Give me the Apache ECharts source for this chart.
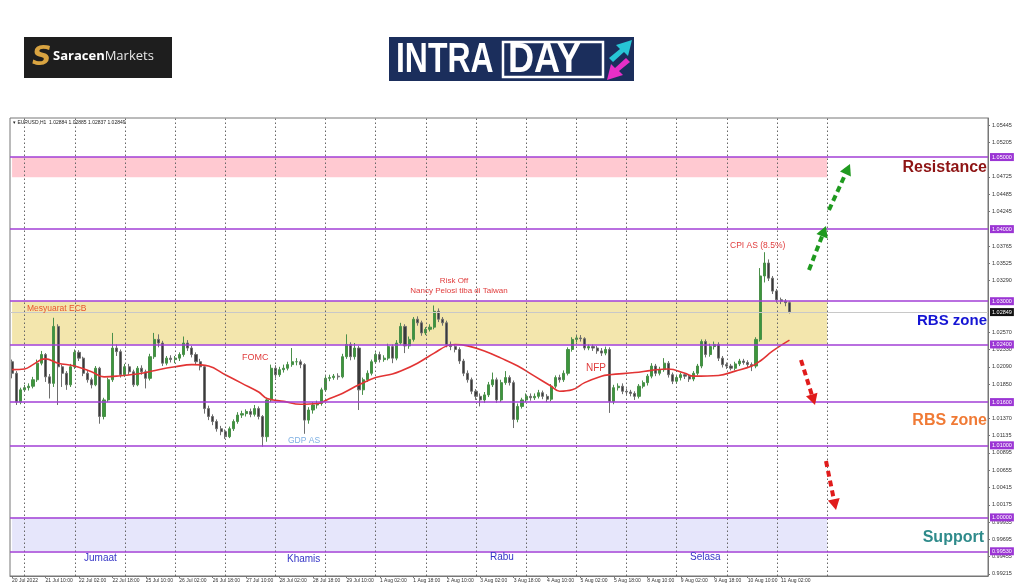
<!DOCTYPE html>
<html><head><meta charset="utf-8">
<script src="https://cdn.jsdelivr.net/npm/echarts@6/dist/echarts.min.js"></script>
<style>html,body{margin:0;padding:0;background:#fff}#c{width:1024px;height:587px}</style>
</head><body><div id="c"></div>
<script>
// H2-resampled EURUSD candles [open, close, low, high]
const candles = [
[1.0216,1.0200,1.0193,1.0219],[1.0200,1.0160,1.0156,1.0203],[1.0160,1.0177,1.0157,1.0180],[1.0177,1.0180,1.0174,1.0184],
[1.0180,1.0182,1.0176,1.0186],[1.0182,1.0191,1.0179,1.0195],[1.0191,1.0214,1.0188,1.0219],[1.0214,1.0226,1.0211,1.0231],
[1.0226,1.0195,1.0188,1.0228],[1.0195,1.0186,1.0165,1.0199],[1.0186,1.0265,1.0181,1.0277],[1.0265,1.0209,1.0156,1.0268],
[1.0209,1.0200,1.0181,1.0212],[1.0200,1.0184,1.0177,1.0203],[1.0184,1.0209,1.0181,1.0213],[1.0209,1.0229,1.0206,1.0233],
[1.0229,1.0221,1.0217,1.0232],[1.0221,1.0200,1.0196,1.0223],[1.0200,1.0191,1.0187,1.0203],[1.0191,1.0184,1.0179,1.0194],
[1.0184,1.0207,1.0182,1.0210],[1.0207,1.0140,1.0130,1.0209],[1.0140,1.0163,1.0136,1.0166],[1.0163,1.0191,1.0160,1.0194],
[1.0191,1.0235,1.0188,1.0256],[1.0235,1.0230,1.0224,1.0240],[1.0230,1.0198,1.0194,1.0233],[1.0198,1.0209,1.0195,1.0213],
[1.0209,1.0202,1.0198,1.0213],[1.0202,1.0184,1.0181,1.0205],[1.0184,1.0207,1.0182,1.0210],[1.0207,1.0202,1.0198,1.0211],
[1.0202,1.0193,1.0179,1.0205],[1.0193,1.0223,1.0190,1.0227],[1.0223,1.0247,1.0220,1.0256],[1.0247,1.0242,1.0236,1.0254],
[1.0242,1.0214,1.0210,1.0245],[1.0214,1.0221,1.0211,1.0224],[1.0221,1.0219,1.0215,1.0225],[1.0219,1.0221,1.0214,1.0224],
[1.0221,1.0226,1.0217,1.0229],[1.0226,1.0242,1.0223,1.0251],[1.0242,1.0235,1.0231,1.0246],[1.0235,1.0226,1.0222,1.0238],
[1.0226,1.0216,1.0212,1.0229],[1.0216,1.0209,1.0204,1.0220],[1.0209,1.0151,1.0144,1.0211],[1.0151,1.0140,1.0135,1.0155],
[1.0140,1.0133,1.0128,1.0143],[1.0133,1.0123,1.0119,1.0136],[1.0123,1.0119,1.0114,1.0127],[1.0119,1.0112,1.0109,1.0122],
[1.0112,1.0123,1.0110,1.0126],[1.0123,1.0133,1.0120,1.0136],[1.0133,1.0142,1.0130,1.0146],[1.0142,1.0144,1.0138,1.0148],
[1.0144,1.0147,1.0140,1.0150],[1.0147,1.0143,1.0139,1.0151],[1.0143,1.0151,1.0140,1.0156],[1.0151,1.0140,1.0136,1.0154],
[1.0140,1.0112,1.0098,1.0142],[1.0112,1.0163,1.0105,1.0166],[1.0163,1.0207,1.0160,1.0212],[1.0207,1.0198,1.0193,1.0211],
[1.0198,1.0205,1.0195,1.0209],[1.0205,1.0207,1.0201,1.0212],[1.0207,1.0212,1.0204,1.0216],[1.0212,1.0216,1.0209,1.0235],
[1.0216,1.0216,1.0211,1.0221],[1.0216,1.0212,1.0207,1.0219],[1.0212,1.0135,1.0116,1.0214],[1.0135,1.0149,1.0130,1.0153],
[1.0149,1.0156,1.0144,1.0160],[1.0156,1.0158,1.0151,1.0162],[1.0158,1.0177,1.0155,1.0180],[1.0177,1.0193,1.0174,1.0196],
[1.0193,1.0194,1.0189,1.0198],[1.0194,1.0196,1.0191,1.0199],[1.0196,1.0195,1.0191,1.0200],[1.0195,1.0223,1.0193,1.0227],
[1.0223,1.0240,1.0220,1.0254],[1.0240,1.0223,1.0218,1.0243],[1.0223,1.0235,1.0219,1.0242],[1.0235,1.0177,1.0149,1.0238],
[1.0177,1.0191,1.0170,1.0194],[1.0191,1.0200,1.0188,1.0204],[1.0200,1.0216,1.0197,1.0219],[1.0216,1.0226,1.0213,1.0229],
[1.0226,1.0219,1.0215,1.0230],[1.0219,1.0221,1.0216,1.0225],[1.0221,1.0237,1.0218,1.0241],[1.0237,1.0221,1.0214,1.0240],
[1.0221,1.0242,1.0218,1.0246],[1.0242,1.0265,1.0240,1.0270],[1.0265,1.0238,1.0228,1.0268],[1.0238,1.0247,1.0234,1.0251],
[1.0247,1.0275,1.0244,1.0278],[1.0275,1.0270,1.0266,1.0279],[1.0270,1.0256,1.0252,1.0273],[1.0256,1.0261,1.0253,1.0264],
[1.0261,1.0264,1.0258,1.0268],[1.0264,1.0286,1.0261,1.0294],[1.0286,1.0275,1.0271,1.0290],[1.0275,1.0270,1.0266,1.0278],
[1.0270,1.0240,1.0236,1.0273],[1.0240,1.0237,1.0232,1.0244],[1.0237,1.0233,1.0229,1.0240],[1.0233,1.0217,1.0213,1.0236],
[1.0217,1.0200,1.0196,1.0220],[1.0200,1.0191,1.0187,1.0204],[1.0191,1.0175,1.0171,1.0194],[1.0175,1.0168,1.0163,1.0178],
[1.0168,1.0163,1.0154,1.0172],[1.0163,1.0170,1.0159,1.0174],[1.0170,1.0184,1.0167,1.0188],[1.0184,1.0191,1.0181,1.0201],
[1.0191,1.0163,1.0159,1.0194],[1.0163,1.0187,1.0160,1.0191],[1.0187,1.0194,1.0184,1.0203],[1.0194,1.0187,1.0183,1.0197],
[1.0187,1.0136,1.0124,1.0190],[1.0136,1.0154,1.0132,1.0158],[1.0154,1.0163,1.0151,1.0166],[1.0163,1.0168,1.0160,1.0172],
[1.0168,1.0166,1.0162,1.0172],[1.0166,1.0168,1.0163,1.0172],[1.0168,1.0173,1.0165,1.0177],[1.0173,1.0168,1.0164,1.0176],
[1.0168,1.0164,1.0160,1.0171],[1.0164,1.0182,1.0161,1.0185],[1.0182,1.0194,1.0179,1.0197],[1.0194,1.0191,1.0187,1.0198],
[1.0191,1.0200,1.0188,1.0204],[1.0200,1.0233,1.0197,1.0236],[1.0233,1.0247,1.0230,1.0250],[1.0247,1.0249,1.0243,1.0253],
[1.0249,1.0248,1.0244,1.0253],[1.0248,1.0235,1.0232,1.0250],[1.0235,1.0237,1.0232,1.0240],[1.0237,1.0235,1.0231,1.0240],
[1.0235,1.0231,1.0227,1.0238],[1.0231,1.0228,1.0224,1.0235],[1.0228,1.0233,1.0225,1.0237],[1.0233,1.0161,1.0145,1.0236],
[1.0161,1.0180,1.0157,1.0184],[1.0180,1.0182,1.0176,1.0186],[1.0182,1.0175,1.0171,1.0186],[1.0175,1.0174,1.0170,1.0179],
[1.0174,1.0172,1.0168,1.0177],[1.0172,1.0168,1.0163,1.0175],[1.0168,1.0182,1.0165,1.0185],[1.0182,1.0187,1.0179,1.0190],
[1.0187,1.0196,1.0183,1.0199],[1.0196,1.0210,1.0193,1.0214],[1.0210,1.0200,1.0196,1.0213],[1.0200,1.0205,1.0197,1.0209],
[1.0205,1.0214,1.0202,1.0221],[1.0214,1.0198,1.0194,1.0217],[1.0198,1.0189,1.0185,1.0201],[1.0189,1.0194,1.0186,1.0197],
[1.0194,1.0198,1.0190,1.0201],[1.0198,1.0196,1.0192,1.0200],[1.0196,1.0192,1.0188,1.0199],[1.0192,1.0200,1.0189,1.0203],
[1.0200,1.0210,1.0197,1.0213],[1.0210,1.0244,1.0207,1.0247],[1.0244,1.0226,1.0222,1.0247],[1.0226,1.0237,1.0223,1.0241],
[1.0237,1.0240,1.0233,1.0244],[1.0240,1.0221,1.0217,1.0243],[1.0221,1.0212,1.0208,1.0224],[1.0212,1.0210,1.0206,1.0215],
[1.0210,1.0207,1.0204,1.0213],[1.0207,1.0213,1.0204,1.0216],[1.0213,1.0217,1.0210,1.0220],[1.0217,1.0215,1.0212,1.0220],
[1.0215,1.0212,1.0208,1.0218],[1.0212,1.0210,1.0203,1.0215],[1.0210,1.0247,1.0207,1.0250],[1.0247,1.0335,1.0244,1.0346],
[1.0335,1.0353,1.0326,1.0368],[1.0353,1.0332,1.0328,1.0358],[1.0332,1.0314,1.0310,1.0335],[1.0314,1.0302,1.0298,1.0317],
[1.0302,1.0300,1.0296,1.0305],[1.0300,1.0298,1.0293,1.0303],[1.0298,1.0285,1.0283,1.0300]
];
// moving average readings [slot, value]
const maPoints = [
[0,1.0205],[3,1.0206],[5,1.0212],[7,1.0219],[8,1.0220],[11,1.0214],[15,1.0210],[19,1.0202],[22,1.0195],[25,1.0196],
[31,1.0200],[35,1.0205],[39,1.0209],[43,1.0212],[47,1.0210],[51,1.0198],[55,1.0186],[59,1.0174],[61,1.0165],[65,1.0161],
[69,1.0157],[73,1.0158],[76,1.0165],[79,1.0172],[83,1.0184],[87,1.0194],[91,1.0199],[93,1.0203],[97,1.0214],[101,1.0228],
[104,1.0238],[106,1.0240],[109,1.0238],[113,1.0231],[117,1.0221],[121,1.0210],[125,1.0196],[129,1.0182],[131,1.0175],
[134,1.0177],[137,1.0187],[141,1.0196],[143,1.0198],[149,1.0201],[153,1.0204],[157,1.0206],[161,1.0200],[163,1.0196],
[169,1.0197],[173,1.0203],[177,1.0210],[179,1.0217],[182,1.0231],[186,1.0246]
];
const xTickLabels = ['20 Jul 2022','21 Jul 10:00','22 Jul 02:00','22 Jul 18:00','25 Jul 10:00','26 Jul 02:00','26 Jul 18:00',
'27 Jul 10:00','28 Jul 02:00','28 Jul 18:00','29 Jul 10:00','1 Aug 02:00','1 Aug 18:00','2 Aug 10:00','3 Aug 02:00',
'3 Aug 18:00','4 Aug 10:00','5 Aug 02:00','5 Aug 18:00','8 Aug 10:00','9 Aug 02:00','9 Aug 18:00','10 Aug 10:00','11 Aug 02:00'];
const yTickValues = [1.05445,1.05205,1.04725,1.04485,1.04245,1.03765,1.03525,1.03290,1.02570,1.02330,1.02090,1.01850,
1.01370,1.01135,1.00895,1.00655,1.00415,1.00175,0.99935,0.99695,0.99455,0.99215];
const levelValues = [1.05000,1.04000,1.03000,1.02400,1.01600,1.01000,1.00000,0.99530];
const zoneBounds = [[1.04720,1.05000],[1.02400,1.03000],[0.99530,1.00000]];
const lastPrice = 1.02849;
const header = 'EURUSD,H1  1.02884 1.02885 1.02837 1.02849';
const dayNames = ['Jumaat','Khamis','Rabu','Selasa'];

const SLOTS = 234;
const cats = Array.from({length: SLOTS}, (_, i) => i);
const zoneColors = ['#ffc9d1','#f3e6ad','#e6e6fb'];
const midnightSlots = [];
for (let s = 3; s <= 195; s += 12) midnightSlots.push(s);

const chart = echarts.init(document.getElementById('c'), null, {renderer: 'canvas'});
const F = 'Liberation Sans, Arial, sans-serif';

function dashedArrow(x1, y1, x2, y2, color) {
  const ang = Math.atan2(y2 - y1, x2 - x1);
  const hl = 11, hw = 6;
  const bx = x2 - hl * Math.cos(ang), by = y2 - hl * Math.sin(ang);
  const px = -Math.sin(ang) * hw, py = Math.cos(ang) * hw;
  return [
    {type: 'line', shape: {x1, y1, x2: bx, y2: by}, style: {stroke: color, lineWidth: 4, lineDash: [6, 4]}, z: 100},
    {type: 'polygon', shape: {points: [[x2, y2], [bx + px, by + py], [bx - px, by - py]]}, style: {fill: color}, z: 100}
  ];
}

const option = {
  animation: false,
  backgroundColor: '#ffffff',
  grid: {left: 10, right: 36, top: 118, bottom: 11, show: true, borderColor: '#777', borderWidth: 1, backgroundColor: 'transparent'},
  xAxis: {
    type: 'category', data: cats, boundaryGap: true,
    axisLine: {show: true, lineStyle: {color: '#777'}},
    axisTick: {show: true, alignWithLabel: true, length: 2, interval: (i) => i % 8 === 0 && i / 8 < xTickLabels.length, lineStyle: {color: '#777'}},
    axisLabel: {show: true, interval: (i) => i % 8 === 0 && i / 8 < xTickLabels.length,
      formatter: (v, i) => xTickLabels[i / 8] || '', fontSize: 5, fontFamily: F, color: '#333', align: 'left', margin: 2},
    splitLine: {show: false}
  },
  yAxis: {
    type: 'value', position: 'right', min: 0.99187, max: 1.05542, scale: true,
    axisLine: {show: true, lineStyle: {color: '#777'}},
    axisTick: {show: true, length: 2, customValues: yTickValues, lineStyle: {color: '#777'}},
    axisLabel: {show: true, customValues: yTickValues, formatter: (v) => v.toFixed(5), fontSize: 5.5, fontFamily: F, color: '#333', margin: 4},
    splitLine: {show: false}
  },
  series: [
    {
      name: 'zones', type: 'line', data: [], z: 1, silent: true,
      markArea: {silent: true, data: zoneBounds.map((b, i) => [
        {xAxis: 0, yAxis: b[1], itemStyle: {color: zoneColors[i], opacity: 1}},
        {xAxis: 195, yAxis: b[0]}
      ])}
    },
    {
      name: 'grid', type: 'line', data: [], z: 2, silent: true,
      markLine: {silent: true, symbol: ['none', 'none'], label: {show: false},
        lineStyle: {color: '#666', type: [1.5, 2.5], width: 1},
        data: midnightSlots.map(s => ({xAxis: s}))}
    },
    {
      name: 'lastline', type: 'line', data: [], z: 2, silent: true,
      markLine: {silent: true, symbol: ['none', 'none'], precision: 5,
        lineStyle: {color: '#c8c8c8', type: 'solid', width: 1},
        label: {show: true, position: 'end', distance: 2, formatter: lastPrice.toFixed(5), color: '#fff', backgroundColor: '#111', fontSize: 5.5, fontFamily: F, padding: [1, 2]},
        data: [{yAxis: lastPrice}]}
    },
    {
      name: 'EURUSD', type: 'candlestick', data: candles, z: 3, barWidth: '62%',
      itemStyle: {color: '#3c963c', color0: '#3a3a3a', borderColor: '#4a8f4a', borderColor0: '#6e6e6e', borderWidth: 1}
    },
    {
      name: 'MA', type: 'line', data: maPoints, z: 4, smooth: 0.4, symbol: 'none', silent: true,
      lineStyle: {color: '#e23434', width: 1.6}
    },
    {
      name: 'levels', type: 'line', data: [], z: 5, silent: true,
      markLine: {silent: true, symbol: ['none', 'none'], precision: 5,
        lineStyle: {color: '#a23fd6', type: 'solid', width: 1.5},
        label: {show: true, position: 'end', distance: 2, formatter: (p) => Number(p.value).toFixed(5), color: '#fff', backgroundColor: '#9b35d4', fontSize: 5.5, fontFamily: F, padding: [1, 2]},
        data: levelValues.map(v => ({yAxis: v}))}
    }
  ],
  graphic: [
    // Saracen logo
    {type: 'rect', shape: {x: 24, y: 37, width: 148, height: 41}, style: {fill: '#1e1e1e'}},
    {type: 'text', x: 32, y: 44, style: {text: 'S', font: 'italic bold 27px DejaVu Sans', fill: '#d9a441'}},
    {type: 'text', x: 53, y: 50, style: {text: '{b|Saracen}{n|Markets}', rich: {
      b: {font: 'bold 13px Open Sans', fill: '#ffffff'}, n: {font: '13px Open Sans', fill: '#e8e8e8'}}}},
    // INTRADAY logo
    {type: 'rect', shape: {x: 389, y: 37, width: 245, height: 44}, style: {fill: '#1b2e5c'}},
    {type: 'text', x: 396, y: 39, scaleX: 0.76, style: {text: 'INTRA', font: 'bold 42px Liberation Sans', fill: '#ffffff'}},
    {type: 'rect', shape: {x: 503, y: 42, width: 100, height: 35}, style: {fill: 'none', stroke: '#ffffff', lineWidth: 2.5}},
    {type: 'text', x: 508, y: 39, scaleX: 0.86, style: {text: 'DAY', font: 'bold 42px Liberation Sans', fill: '#ffffff'}},
    {type: 'polygon', shape: {points: [[609, 58], [620, 49], [616, 45], [632, 40], [628, 56], [624, 52], [613, 62]]}, style: {fill: '#27c6d6'}},
    {type: 'polygon', shape: {points: [[630, 62], [619, 71], [623, 75], [607, 80], [611, 64], [615, 68], [626, 58]]}, style: {fill: '#e62fc7'}},
    // header
    {type: 'text', x: 13, y: 120, style: {text: '\u25BE ' + header, font: '5px Liberation Sans', fill: '#222'}},
    // annotations
    {type: 'text', x: 27, y: 304, style: {text: 'Mesyuarat ECB', font: '8.5px Liberation Sans', fill: '#e8552e'}, z: 50},
    {type: 'text', x: 242, y: 353, style: {text: 'FOMC', font: '9px Liberation Sans', fill: '#e03c3c'}, z: 50},
    {type: 'text', x: 288, y: 436, style: {text: 'GDP AS', font: '8.5px Liberation Sans', fill: '#7fb0e3'}, z: 50},
    {type: 'text', x: 454, y: 277, style: {text: 'Risk Off', font: '8px Liberation Sans', fill: '#e03c3c', textAlign: 'center'}, z: 50},
    {type: 'text', x: 459, y: 287, style: {text: 'Nancy Pelosi tiba di Taiwan', font: '8px Liberation Sans', fill: '#e03c3c', textAlign: 'center'}, z: 50},
    {type: 'text', x: 586, y: 363, style: {text: 'NFP', font: '10px Liberation Sans', fill: '#e03c3c'}, z: 50},
    {type: 'text', x: 730, y: 241, style: {text: 'CPI AS (8.5%)', font: '8.5px Liberation Sans', fill: '#e03c3c'}, z: 50},
    // zone titles
    {type: 'text', x: 987, y: 168, style: {text: 'Resistance', font: 'bold 16px Liberation Sans', fill: '#8e1414', textAlign: 'right', textVerticalAlign: 'middle'}, z: 50},
    {type: 'text', x: 987, y: 321, style: {text: 'RBS zone', font: 'bold 15px Liberation Sans', fill: '#1515d4', textAlign: 'right', textVerticalAlign: 'middle'}, z: 50},
    {type: 'text', x: 987, y: 421, style: {text: 'RBS zone', font: 'bold 16px Liberation Sans', fill: '#f07a35', textAlign: 'right', textVerticalAlign: 'middle'}, z: 50},
    {type: 'text', x: 984, y: 538, style: {text: 'Support', font: 'bold 16px Liberation Sans', fill: '#2f8b8b', textAlign: 'right', textVerticalAlign: 'middle'}, z: 50},
    // day labels
    {type: 'text', x: 84, y: 553, style: {text: dayNames[0], font: '10px Liberation Sans', fill: '#3636c6'}, z: 50},
    {type: 'text', x: 287, y: 554, style: {text: dayNames[1], font: '10px Liberation Sans', fill: '#3636c6'}, z: 50},
    {type: 'text', x: 490, y: 552, style: {text: dayNames[2], font: '10px Liberation Sans', fill: '#3636c6'}, z: 50},
    {type: 'text', x: 690, y: 552, style: {text: dayNames[3], font: '10px Liberation Sans', fill: '#3636c6'}, z: 50},
  ]
  .concat(dashedArrow(809, 270, 826, 226, '#1f9a1f'))
  .concat(dashedArrow(829, 210, 850, 164, '#1f9a1f'))
  .concat(dashedArrow(801, 360, 815, 405, '#e01b1b'))
  .concat(dashedArrow(826, 461, 836, 510, '#e01b1b'))
};
chart.setOption(option);
</script>
</body></html>
